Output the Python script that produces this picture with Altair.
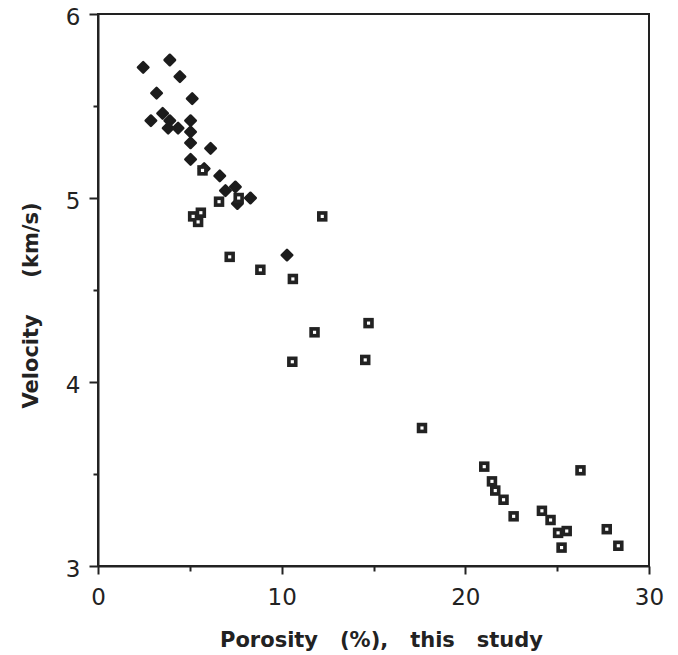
import altair as alt
import pandas as pd

diamond_x = [2.46, 3.91, 4.46, 3.19, 5.13, 3.52, 2.88, 3.91, 3.82, 4.36, 5.04, 5.04, 5.04,
             6.13, 5.04, 5.78, 6.63, 6.94, 7.48, 8.30, 7.59, 10.29]
diamond_y = [5.71, 5.75, 5.66, 5.57, 5.54, 5.46, 5.42, 5.42, 5.38, 5.38, 5.42, 5.36, 5.30,
             5.27, 5.21, 5.16, 5.12, 5.04, 5.06, 5.00, 4.97, 4.69]

square_x = [5.69, 6.59, 7.66, 5.60, 5.18, 5.45, 12.21, 7.17, 8.84, 10.61, 14.73, 11.79, 10.58,
            14.55, 17.64, 21.03, 21.45, 21.63, 22.08, 22.63, 24.17, 24.64, 25.05, 25.52,
            25.24, 26.27, 27.70, 28.33]
square_y = [5.15, 4.98, 5.00, 4.92, 4.90, 4.87, 4.90, 4.68, 4.61, 4.56, 4.32, 4.27, 4.11,
            4.12, 3.75, 3.54, 3.46, 3.41, 3.36, 3.27, 3.30, 3.25, 3.18, 3.19,
            3.10, 3.52, 3.20, 3.11]

x_ticks = [0, 5, 10, 15, 20, 25, 30]
y_ticks = [3, 3.5, 4, 4.5, 5, 5.5, 6]

diam = pd.DataFrame({"x": diamond_x, "y": diamond_y})
sq = pd.DataFrame({"x": square_x, "y": square_y})

NB = "\u00a0"
x_title = f"Porosity{NB*3}(%),{NB*3}this{NB*3}study"
y_title = f"Velocity{NB*5}(km/s)"

INK = "#222222"
LABEL_FONT = "DejaVu Sans"
TITLE_FONT = "DejaVu Sans"

xscale = alt.Scale(domain=[0, 30], nice=False, zero=False)
yscale = alt.Scale(domain=[3, 6], nice=False, zero=False)

xaxis = alt.Axis(
    values=x_ticks, title=x_title, grid=False,
    labelExpr="datum.value % 10 === 0 ? format(datum.value, 'd') : ''",
    tickSize={"condition": {"test": "datum.value % 10 === 0", "value": 8}, "value": 5},
    tickColor=INK, tickWidth=2, domainColor=INK, domainWidth=2,
    labelFont=LABEL_FONT, labelFontSize=23, labelColor=INK, labelPadding=12,
    labelFlush=False, labelOverlap=False,
    titleFont=TITLE_FONT, titleFontSize=21, titleFontWeight="bold",
    titleColor=INK, titleBaseline="alphabetic", titleX=283, titleY=80,
    titleAlign="center",
)
yaxis = alt.Axis(
    values=y_ticks, title=y_title, grid=False,
    labelExpr="datum.value % 1 === 0 ? format(datum.value, 'd') : ''",
    tickSize={"condition": {"test": "datum.value % 1 === 0", "value": 9}, "value": 5},
    tickColor=INK, tickWidth=2, domainColor=INK, domainWidth=2,
    labelFont=LABEL_FONT, labelFontSize=23, labelColor=INK, labelPadding=9,
    labelOffset=3, labelFlush=False, labelOverlap=False,
    titleFont=TITLE_FONT, titleFontSize=21, titleFontWeight="bold",
    titleColor=INK, titleBaseline="alphabetic", titleX=-61, titleY=291,
    titleAlign="center", titleAngle=270,
)

enc = dict(
    x=alt.X("x:Q", scale=xscale, axis=xaxis),
    y=alt.Y("y:Q", scale=yscale, axis=yaxis),
)

diamonds = alt.Chart(diam).mark_point(
    shape="diamond", filled=True, fill="#1c1c1c", stroke="#1c1c1c",
    strokeWidth=2.5, strokeJoin="round", size=110, opacity=1
).encode(**enc)

base_sq = alt.Chart(sq).mark_point(
    shape="square", filled=True, color=INK, size=110, opacity=1
).encode(**enc)

inner_sq = alt.Chart(sq).mark_point(
    shape="square", filled=True, color="#ffffff", size=10, opacity=1
).encode(**enc)

chart = alt.layer(diamonds, base_sq, inner_sq).properties(
    width=551, height=552,
    autosize=alt.AutoSizeParams(type="none"),
    padding={"left": 98, "top": 14, "right": 29, "bottom": 89},
    background="white",
).configure_view(stroke=INK, strokeWidth=2)

chart.save("out.html", embed_options={"renderer": "svg", "actions": False})
